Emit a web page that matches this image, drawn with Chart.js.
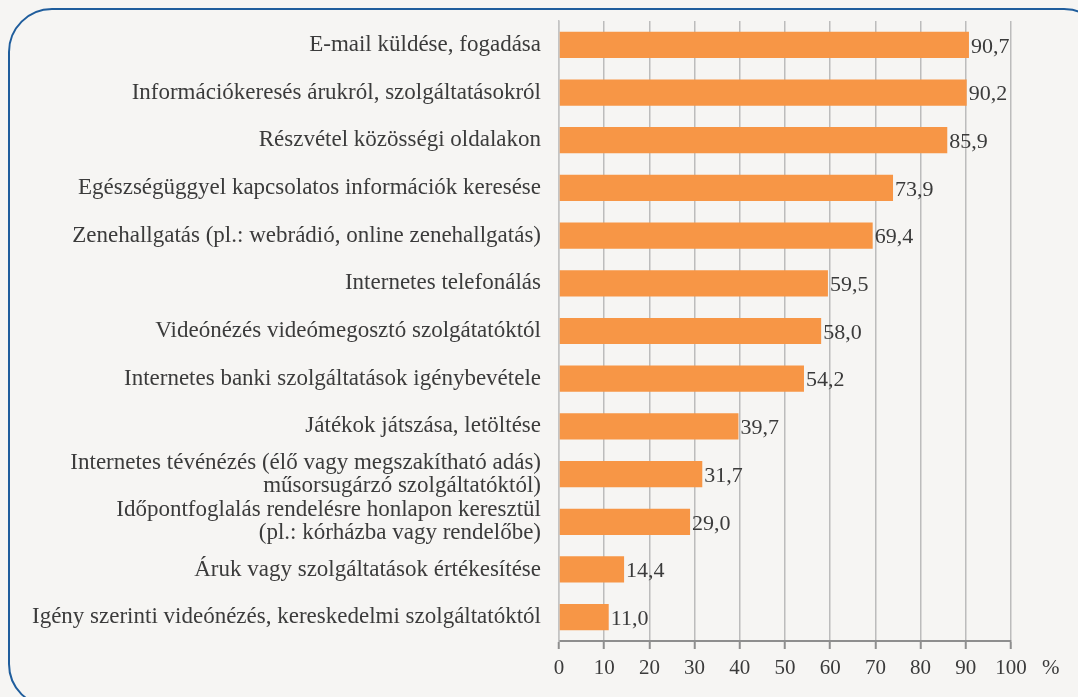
<!DOCTYPE html>
<html>
<head>
<meta charset="utf-8">
<script src="https://cdn.jsdelivr.net/npm/chart.js@4/dist/chart.umd.min.js"></script>
<style>
  html, body { margin: 0; padding: 0; background: #f6f5f3; overflow: hidden; }
  #wrap { position: relative; width: 1078px; height: 697px; }
  #frame {
    position: absolute; left: 8px; top: 8px; width: 1100px; height: 700px;
    border: 2px solid #1f5d9c; border-radius: 44px; box-sizing: border-box;
    pointer-events: none;
  }
  canvas { position: absolute; left: 0; top: 0; }
</style>
</head>
<body>
<div id="wrap">
  <canvas id="c" width="1078" height="697"></canvas>
  <div id="frame"></div>
</div>
<script>
const categories = [
  "E-mail küldése, fogadása",
  "Információkeresés árukról, szolgáltatásokról",
  "Részvétel közösségi oldalakon",
  "Egészségüggyel kapcsolatos információk keresése",
  "Zenehallgatás (pl.: webrádió, online zenehallgatás)",
  "Internetes telefonálás",
  "Videónézés videómegosztó szolgátatóktól",
  "Internetes banki szolgáltatások igénybevétele",
  "Játékok játszása, letöltése",
  ["Internetes tévénézés (élő vagy megszakítható adás)", "műsorsugárzó szolgáltatóktól)"],
  ["Időpontfoglalás rendelésre honlapon keresztül", "(pl.: kórházba vagy rendelőbe)"],
  "Áruk vagy szolgáltatások értékesítése",
  "Igény szerinti videónézés, kereskedelmi szolgáltatóktól"
];
const shares = [90.7, 90.2, 85.9, 73.9, 69.4, 59.5, 58.0, 54.2, 39.7, 31.7, 29.0, 14.4, 11.0];
const xTicks = [0, 10, 20, 30, 40, 50, 60, 70, 80, 90, 100];
const unitLabel = "%";

const FONT = "'Liberation Serif', 'DejaVu Serif', serif";
const TEXT = "#3b3b3b";

const valueLabels = {
  id: "valueLabels",
  afterDatasetsDraw(chart) {
    const ctx = chart.ctx;
    const meta = chart.getDatasetMeta(0);
    ctx.save();
    ctx.font = "22px " + FONT;
    ctx.fillStyle = TEXT;
    ctx.textAlign = "left";
    ctx.textBaseline = "middle";
    meta.data.forEach((bar, i) => {
      const v = chart.data.datasets[0].data[i];
      ctx.fillText(v.toFixed(1).replace(".", ","), bar.x + 2, bar.y + 2);
    });
    // unit after the last x tick
    const xs = chart.scales.x;
    ctx.font = "21px " + FONT;
    ctx.fillText(unitLabel, xs.getPixelForValue(100) + 31, xs.top + 27);
    ctx.restore();
  }
};

new Chart(document.getElementById("c"), {
  type: "bar",
  data: {
    labels: categories,
    datasets: [{
      data: shares,
      backgroundColor: "#f79646",
      borderWidth: 0,
      barPercentage: 0.55,
      categoryPercentage: 1.0
    }]
  },
  options: {
    indexAxis: "y",
    responsive: false,
    animation: false,
    events: [],
    layout: { padding: { left: 10, right: 67, top: 21, bottom: 0 } },
    plugins: { legend: { display: false }, tooltip: { enabled: false } },
    scales: {
      x: {
        min: 0, max: 100,
        afterBuildTicks(scale) { scale.ticks = xTicks.map(v => ({ value: v })); },
        afterFit(scale) { scale.height = 56; },
        grid: {
          color: "#bcbcbc", lineWidth: 1.5,
          drawTicks: true, tickLength: 8, tickColor: "#8e8e8e", tickWidth: 2
        },
        border: { display: true, color: "#8e8e8e", width: 2 },
        ticks: {
          color: TEXT, padding: 7, maxRotation: 0,
          font: { family: FONT, size: 21 }
        }
      },
      y: {
        afterFit(scale) {
          scale.width = 549;
          scale.paddingTop = 0;
          scale.paddingBottom = 0;
        },
        grid: { display: false, drawTicks: false },
        border: { display: true, color: "#c4c4c4", width: 1.5 },
        ticks: {
          color: TEXT, padding: 18, autoSkip: false,
          font: { family: FONT, size: 23, lineHeight: 1.0 }
        }
      }
    }
  },
  plugins: [valueLabels]
});
</script>
</body>
</html>
